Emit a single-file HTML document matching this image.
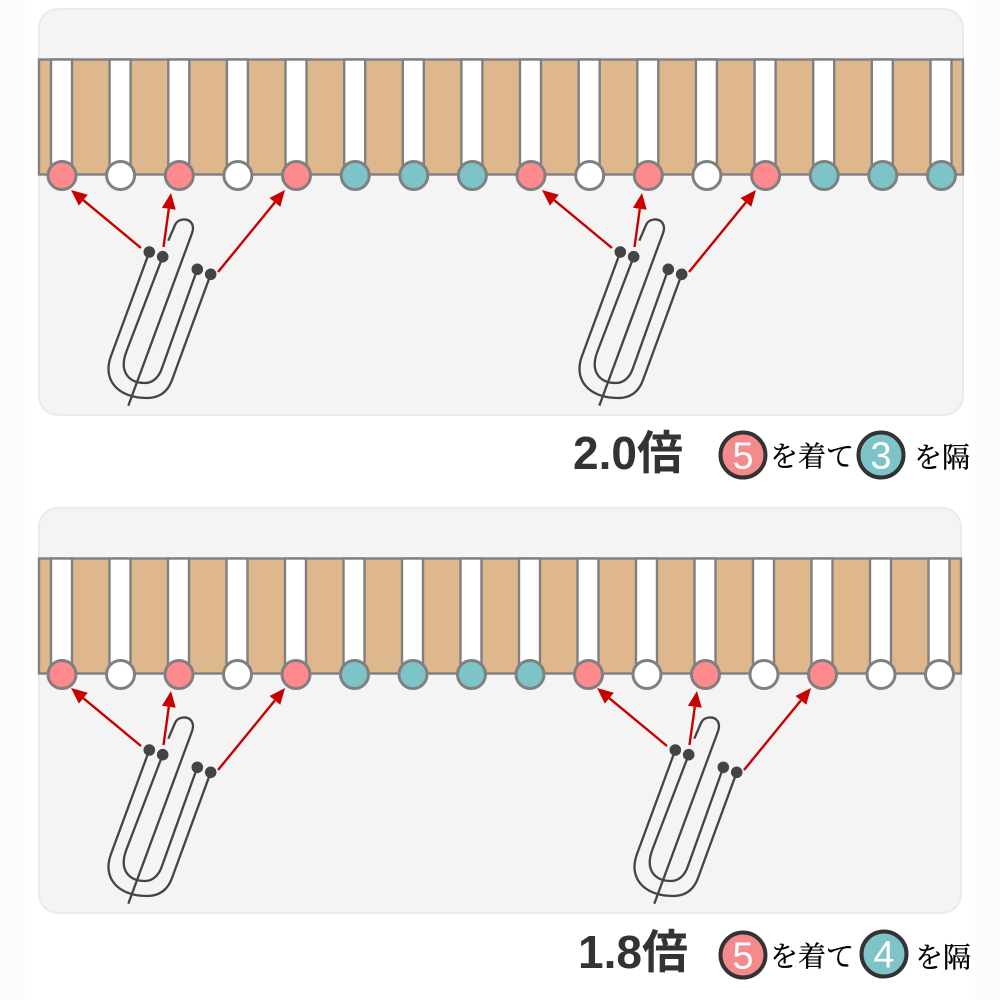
<!DOCTYPE html>
<html>
<head>
<meta charset="utf-8">
<style>
html,body{margin:0;padding:0;background:#fff}
svg{display:block}
.sl{fill:#fff;stroke:#808080;stroke-width:2.4}
.p{fill:#ff8a8e;stroke:#808080;stroke-width:3}
.w{fill:#fff;stroke:#808080;stroke-width:3}
.t{fill:#7cc4c8;stroke:#808080;stroke-width:3}
.big{font-family:"Liberation Sans","Noto Sans CJK JP",sans-serif;font-weight:700;font-size:46px;fill:#333}
.jp{font-family:"Liberation Serif","Noto Serif CJK SC",serif;font-size:28px;fill:#000;stroke:#000;stroke-width:.35}
.num{font-family:"Liberation Sans",sans-serif;font-size:38px;fill:#fff;text-anchor:middle}
.lp{fill:#f58a8c;stroke:#333;stroke-width:4}
.lt{fill:#7cc4c8;stroke:#333;stroke-width:4}
</style>
</head>
<body>
<svg width="1000" height="1000" viewBox="0 0 1000 1000" xmlns="http://www.w3.org/2000/svg">
<defs>
<g id="hook">
<g fill="none" stroke="#444" stroke-width="2.3">
<path d="M149.300 252 L111 356 C102 380 118 398 147 398 C160 398 168 391 172 380 L210.700 274.300"/>
<path d="M162.700 256.700 L127 350 C118 372 129 383 145 383 C153 383 159 377 162 368 L197.300 269.300"/>
<path d="M168.300 240.700 L175 225 C178 218 188 218 191.500 223 C194 227 193 231 191 236 L128.300 405.700"/>
</g>
<g fill="#444">
<circle cx="149.300" cy="252" r="5.800"/><circle cx="162.700" cy="256.700" r="5.800"/>
<circle cx="197.300" cy="269.300" r="5.800"/><circle cx="210.700" cy="274.300" r="5.800"/>
</g>
<g stroke="#c80000" stroke-width="2.400" fill="none">
<path d="M141 248 L83.300 200.200"/><path d="M163.500 247 L168.800 208.800"/><path d="M218 272 L274.900 202.400"/>
</g>
<g fill="#c80000">
<path d="M71 190 L87.800 194.800 L78.800 205.600 Z"/>
<path d="M171 193 L175.700 209.800 L161.900 207.800 Z"/>
<path d="M285 190 L280.300 206.800 L269.500 198 Z"/>
</g>
</g>
</defs>

<rect x="0" y="0" width="1000" height="1000" fill="#fff"/>
<rect x="0" y="0" width="25" height="1000" fill="#fcfcfc"/>
<rect x="975" y="0" width="25" height="1000" fill="#fcfcfc"/>

<!-- Panel 1 -->
<rect x="39" y="9" width="924" height="406" rx="19" fill="#f4f4f4" stroke="#ebebeb" stroke-width="2"/>
<rect x="39" y="59.500" width="924" height="115" fill="#deb88c" stroke="#808080" stroke-width="2.400"/>
<g class="sl">
<rect x="51" y="59.500" width="21" height="110"/><rect x="109.600" y="59.500" width="21" height="110"/><rect x="168.300" y="59.500" width="21" height="110"/><rect x="226.900" y="59.500" width="21" height="110"/>
<rect x="285.500" y="59.500" width="21" height="110"/><rect x="344.200" y="59.500" width="21" height="110"/><rect x="402.800" y="59.500" width="21" height="110"/><rect x="461.400" y="59.500" width="21" height="110"/>
<rect x="520" y="59.500" width="21" height="110"/><rect x="578.700" y="59.500" width="21" height="110"/><rect x="637.300" y="59.500" width="21" height="110"/><rect x="695.900" y="59.500" width="21" height="110"/>
<rect x="754.600" y="59.500" width="21" height="110"/><rect x="813.200" y="59.500" width="21" height="110"/><rect x="871.800" y="59.500" width="21" height="110"/><rect x="930.500" y="59.500" width="21" height="110"/>
</g>
<circle class="p" cx="62" cy="175.500" r="14"/><circle class="w" cx="120.600" cy="175.500" r="14"/><circle class="p" cx="179.300" cy="175.500" r="14"/><circle class="w" cx="237.900" cy="175.500" r="14"/>
<circle class="p" cx="296.500" cy="175.500" r="14"/><circle class="t" cx="355.200" cy="175.500" r="14"/><circle class="t" cx="413.800" cy="175.500" r="14"/><circle class="t" cx="472.400" cy="175.500" r="14"/>
<circle class="p" cx="531" cy="175.500" r="14"/><circle class="w" cx="589.700" cy="175.500" r="14"/><circle class="p" cx="648.300" cy="175.500" r="14"/><circle class="w" cx="706.900" cy="175.500" r="14"/>
<circle class="p" cx="765.600" cy="175.500" r="14"/><circle class="t" cx="824.200" cy="175.500" r="14"/><circle class="t" cx="882.800" cy="175.500" r="14"/><circle class="t" cx="941.500" cy="175.500" r="14"/>
<use href="#hook"/>
<use href="#hook" transform="translate(471,0)"/>

<text class="big" x="573" y="469">2.0倍</text>
<circle class="lp" cx="743" cy="455" r="22.500"/><text class="num" x="743" y="468.500">5</text>
<text class="jp" x="770" y="466">を着て</text>
<circle class="lt" cx="881" cy="455" r="22.500"/><text class="num" x="881" y="468.500">3</text>
<text class="jp" x="914" y="467">を隔</text>

<!-- Panel 2 -->
<rect x="39" y="508" width="922" height="405" rx="19" fill="#f4f4f4" stroke="#ebebeb" stroke-width="2"/>
<rect x="39" y="558.500" width="922" height="115" fill="#deb88c" stroke="#808080" stroke-width="2.400"/>
<g class="sl">
<rect x="51" y="558.500" width="21" height="110"/><rect x="109.500" y="558.500" width="21" height="110"/><rect x="168" y="558.500" width="21" height="110"/><rect x="226.500" y="558.500" width="21" height="110"/>
<rect x="285" y="558.500" width="21" height="110"/><rect x="343.500" y="558.500" width="21" height="110"/><rect x="402" y="558.500" width="21" height="110"/><rect x="460.500" y="558.500" width="21" height="110"/>
<rect x="519" y="558.500" width="21" height="110"/><rect x="577.500" y="558.500" width="21" height="110"/><rect x="636" y="558.500" width="21" height="110"/><rect x="694.500" y="558.500" width="21" height="110"/>
<rect x="753" y="558.500" width="21" height="110"/><rect x="811.500" y="558.500" width="21" height="110"/><rect x="870" y="558.500" width="21" height="110"/><rect x="928.500" y="558.500" width="21" height="110"/>
</g>
<circle class="p" cx="62" cy="674.500" r="14"/><circle class="w" cx="120.500" cy="674.500" r="14"/><circle class="p" cx="179" cy="674.500" r="14"/><circle class="w" cx="237.500" cy="674.500" r="14"/>
<circle class="p" cx="296" cy="674.500" r="14"/><circle class="t" cx="354.500" cy="674.500" r="14"/><circle class="t" cx="413" cy="674.500" r="14"/><circle class="t" cx="471.500" cy="674.500" r="14"/>
<circle class="t" cx="530" cy="674.500" r="14"/><circle class="p" cx="588.500" cy="674.500" r="14"/><circle class="w" cx="647" cy="674.500" r="14"/><circle class="p" cx="705.500" cy="674.500" r="14"/>
<circle class="w" cx="764" cy="674.500" r="14"/><circle class="p" cx="822.500" cy="674.500" r="14"/><circle class="w" cx="881" cy="674.500" r="14"/><circle class="w" cx="939.500" cy="674.500" r="14"/>
<use href="#hook" transform="translate(0,498)"/>
<use href="#hook" transform="translate(526,498)"/>

<text class="big" x="578" y="968">1.8倍</text>
<circle class="lp" cx="743" cy="955" r="22.500"/><text class="num" x="743" y="968.500">5</text>
<text class="jp" x="770" y="966">を着て</text>
<circle class="lt" cx="884" cy="954" r="22.500"/><text class="num" x="884" y="967.500">4</text>
<text class="jp" x="915" y="967">を隔</text>
</svg>
</body>
</html>
